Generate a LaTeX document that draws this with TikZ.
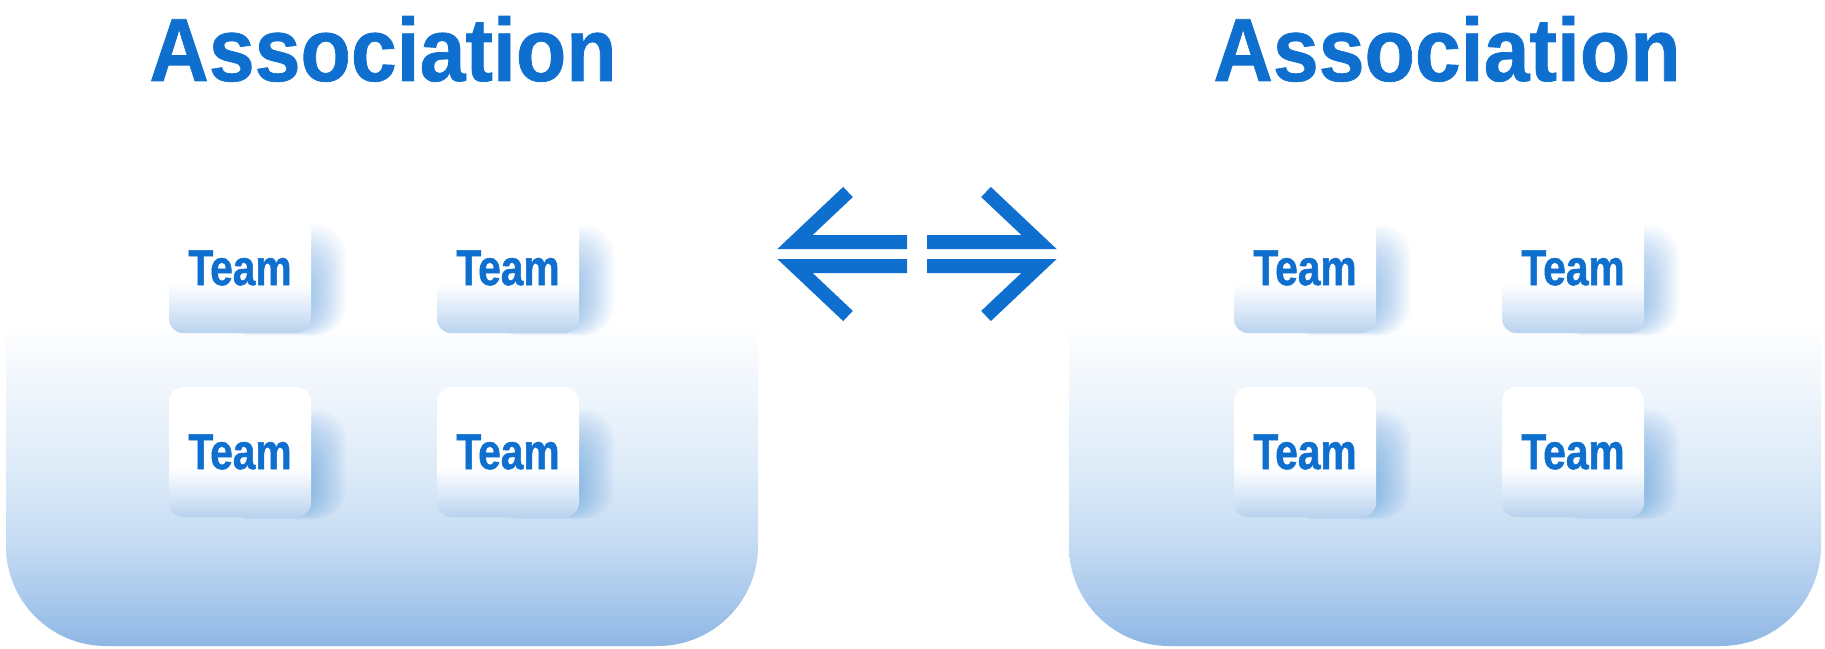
\documentclass[tikz,border=0pt]{standalone}
\usepackage{fontspec}
\newfontfamily\titlefont[FakeStretch=0.92, FakeBold=0.8]{Liberation Sans Bold}
\newfontfamily\teamfont[FakeStretch=0.81, FakeBold=1]{Liberation Sans Bold}
\definecolor{assocblue}{HTML}{0F6FCF}
\definecolor{shadowblue}{HTML}{2F86DA}
\definecolor{pdark}{HTML}{8FB7E4}
\definecolor{pmid}{HTML}{A8C8EC}
\definecolor{psoft}{HTML}{C6DCF3}
\definecolor{plight}{HTML}{DDEBF8}
\definecolor{ppale}{HTML}{EDF4FB}
\definecolor{cardblue}{HTML}{B9D2EE}
\definecolor{cardsoft}{HTML}{D4E4F6}

% panel: blue at the bottom, white from the middle up
\pgfdeclareverticalshading{panelfade}{100bp}{color(0bp)=(pdark); color(25bp)=(pdark);
  color(30.5bp)=(pmid); color(37.7bp)=(psoft); color(46.2bp)=(plight);
  color(54.6bp)=(ppale); color(64bp)=(white); color(100bp)=(white)}
% team card: white with a light blue foot
\pgfdeclareverticalshading{cardfade}{100bp}{color(0bp)=(cardblue); color(25bp)=(cardblue);
  color(32bp)=(cardsoft); color(44bp)=(white); color(100bp)=(white)}

\begin{document}
\begin{tikzpicture}[x=0.2mm, y=-0.2mm,
  assoctitle/.style={font=\titlefont\fontsize{51}{51}\selectfont,
    text=assocblue, inner sep=0pt, anchor=base},
  teambox/.style={shade, shading=cardfade, rounded corners=2.8mm,
    minimum width=28.4mm, minimum height=26mm, inner sep=0pt, text=assocblue,
    font=\teamfont\fontsize{28.6}{28.6}\selectfont},
  glow/.style={fill=shadowblue, opacity=0.023, rounded corners=6mm},
  twinbar/.style={draw=assocblue, line width=2.8mm, line join=miter}]

\useasboundingbox (0,0) rectangle (1825,649);

% ============================================================
% Panels (pixel coordinates, y grows downwards)
% ============================================================
\shade[shading=panelfade, rounded corners=20mm] (6,230) rectangle (758,646);
\shade[shading=panelfade, rounded corners=20mm] (1069,230) rectangle (1821,646);

% Titles
\node[assoctitle] (ltitle) at (383,81) {Association};
\node[assoctitle] (rtitle) at (1447,81) {Association};

% Soft shadows on the right of every card
\foreach \cx/\cy in {240/268, 508/268, 240/452, 508/452,
                     1305/268, 1573/268, 1305/452, 1573/452} {
  \foreach \k in {0,...,19} {
    \fill[glow] (\cx-20, \cy-5-\k*2) rectangle (\cx+73+\k*1.75, \cy+60+\k*0.4);
  }
}

% Team cards, left association
\node[teambox] (lt1) at (240,268) {Team};
\node[teambox] (lt2) at (508,268) {Team};
\node[teambox] (lt3) at (240,452) {Team};
\node[teambox] (lt4) at (508,452) {Team};

% Team cards, right association
\node[teambox] (rt1) at (1305,268) {Team};
\node[teambox] (rt2) at (1573,268) {Team};
\node[teambox] (rt3) at (1305,452) {Team};
\node[teambox] (rt4) at (1573,452) {Team};

% ============================================================
% Double arrow between the two panels
% bars at y=242 and y=266, barbs at about 43 degrees
% ============================================================
\draw[twinbar] (907,242) -- (795,242) -- (848,192);
\draw[twinbar] (907,266) -- (795,266) -- (848,316);
\draw[twinbar] (927,242) -- (1039,242) -- (986,192);
\draw[twinbar] (927,266) -- (1039,266) -- (986,316);

\end{tikzpicture}
\end{document}
